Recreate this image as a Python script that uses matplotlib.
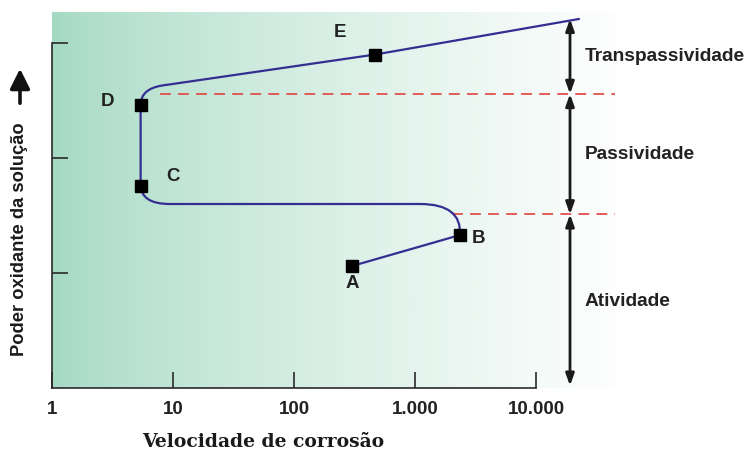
import numpy as np
import matplotlib
matplotlib.use("Agg")
import matplotlib.pyplot as plt
from matplotlib.path import Path
from matplotlib.patches import PathPatch
from matplotlib.colors import LinearSegmentedColormap

# --- data -------------------------------------------------------------
x_ticks = [1, 10, 100, 1000, 10000]
x_tick_labels = ["1", "10", "100", "1.000", "10.000"]
y_ticks = [1, 2, 3]

point_names = ["A", "B", "C", "D", "E"]
point_x = [300, 2350, 5.4, 5.4, 470]
point_y = [1.06, 1.33, 1.76, 2.46, 2.90]
curve_end = (23000, 3.21)

# polarisation curve: straight runs and rounded corners (quadratic Bezier)
curve_verts = [
    (300, 1.06),            # A
    (2350, 1.33),           # B
    (2450, 1.60), (1100, 1.60),   # corner after B
    (9.4, 1.60),
    (5.4, 1.60), (5.4, 1.77),     # corner at C
    (5.4, 2.46),            # D
    (5.4, 2.60), (8.1, 2.63),     # corner after D
    (470, 2.90),            # E
    (23000, 3.21),          # end
]
curve_codes = [Path.MOVETO, Path.LINETO,
               Path.CURVE3, Path.CURVE3,
               Path.LINETO,
               Path.CURVE3, Path.CURVE3,
               Path.LINETO,
               Path.CURVE3, Path.CURVE3,
               Path.LINETO, Path.LINETO]

# region boundaries (dashed) and region names
bound_upper = 2.557
bound_lower = 1.51
upper_dash_x = (7.8, 45000)
lower_dash_x = (2020, 45000)
arrow_x = 19100
arrow_bottom = 0.02
regions = ["Transpassividade", "Passividade", "Atividade"]
region_y = [2.887, 2.035, 0.757]
region_x = 25400

# --- figure -----------------------------------------------------------
W, H = 749, 456
fig = plt.figure(figsize=(W / 100, H / 100), dpi=100)
fig.patch.set_facecolor("white")

left_px, right_px, top_px, bot_px = 52, 630, 13, 389
ax = fig.add_axes([left_px / W, 1 - bot_px / H,
                   (right_px - left_px) / W, (bot_px - top_px) / H])
ax.set_xscale("log")
ax.set_xlim(1, 10 ** ((right_px - left_px) / 121))
ax.set_ylim(0, (bot_px - top_px) / 115)

# background fading from green to white
t = np.linspace(0, 1, 600) ** 0.73
cmap = LinearSegmentedColormap.from_list("bg", [(0.64, 0.85, 0.76), (1, 1, 1)])
ax.imshow(t[np.newaxis, :], cmap=cmap, vmin=0, vmax=1, aspect="auto",
          extent=[0, 1, 0, 1], transform=ax.transAxes, zorder=0)
ax.set_facecolor("none")

for s in ["top", "right"]:
    ax.spines[s].set_visible(False)
for s in ["left", "bottom"]:
    ax.spines[s].set_color("#2a2a2a")
    ax.spines[s].set_linewidth(1.2)
ax.spines["bottom"].set_bounds(1, 10000)
ax.spines["left"].set_bounds(0, 3.0)

ax.set_xticks(x_ticks)
ax.set_xticklabels(x_tick_labels)
ax.xaxis.set_minor_locator(matplotlib.ticker.NullLocator())
ax.set_yticks(y_ticks)
ax.set_yticklabels([])
ax.tick_params(axis="both", direction="in", length=11.5, width=1.2,
               color="#2a2a2a")
ax.tick_params(axis="x", pad=9, labelsize=13.5, labelcolor="#222222")
for lab in ax.get_xticklabels():
    lab.set_fontfamily("Liberation Sans")
    lab.set_fontweight("bold")

# dashed boundaries
ax.plot(upper_dash_x, [bound_upper] * 2, color="#e0504a", lw=1.3,
        dashes=(6, 4), zorder=2, clip_on=False)
ax.plot(lower_dash_x, [bound_lower] * 2, color="#e0504a", lw=1.3,
        dashes=(6, 4), zorder=2, clip_on=False)

# curve
patch = PathPatch(Path(curve_verts, curve_codes), facecolor="none",
                  edgecolor="#342e92", lw=1.6, zorder=3, clip_on=False)
ax.add_patch(patch)

# markers
ax.plot(point_x, point_y, "s", color="black", ms=8.6, zorder=4, clip_on=False)

label_font = dict(family="Liberation Sans", weight="bold", size=13.5,
                  color="#222222", ha="center", va="center")
label_pos = {"A": (301, 0.92), "B": (3318, 1.313), "C": (10, 1.852),
             "D": (2.9, 2.496), "E": (240, 3.104)}
for name in point_names:
    ax.text(*label_pos[name], name, **label_font)

# region arrows
spans = [(curve_end[1], bound_upper), (bound_upper, bound_lower),
         (bound_lower, arrow_bottom)]
for y0, y1 in spans:
    ax.annotate("", xy=(arrow_x, y1), xytext=(arrow_x, y0),
                arrowprops=dict(arrowstyle="<|-|>,head_length=0.7,head_width=0.25",
                                color="#1a1a1a", lw=2.0,
                                shrinkA=0, shrinkB=0),
                annotation_clip=False)
for name, ry in zip(regions, region_y):
    ax.text(region_x, ry, name, family="Liberation Sans", weight="bold",
            size=13.8, color="#222222", ha="left", va="center", clip_on=False)

# axis titles
fig.text(263 / W, 1 - 442 / H, "Velocidade de corrosão",
         family="DejaVu Serif", weight="bold", size=13.5,
         color="#1a1a1a", ha="center", va="center")
fig.text(20 / W, 1 - 239 / H, "Poder oxidante da solução",
         family="Liberation Sans", weight="bold", size=13.2,
         color="#1a1a1a", ha="center", va="center", rotation=90)
fig.add_artist(matplotlib.patches.FancyArrowPatch(
    (20 / W, 1 - 107 / H), (20 / W, 1 - 67 / H), transform=fig.transFigure,
    arrowstyle="-|>,head_length=0.6,head_width=0.3", color="#111111",
    lw=2.6, mutation_scale=20))

fig.savefig("out.png", dpi=100)
